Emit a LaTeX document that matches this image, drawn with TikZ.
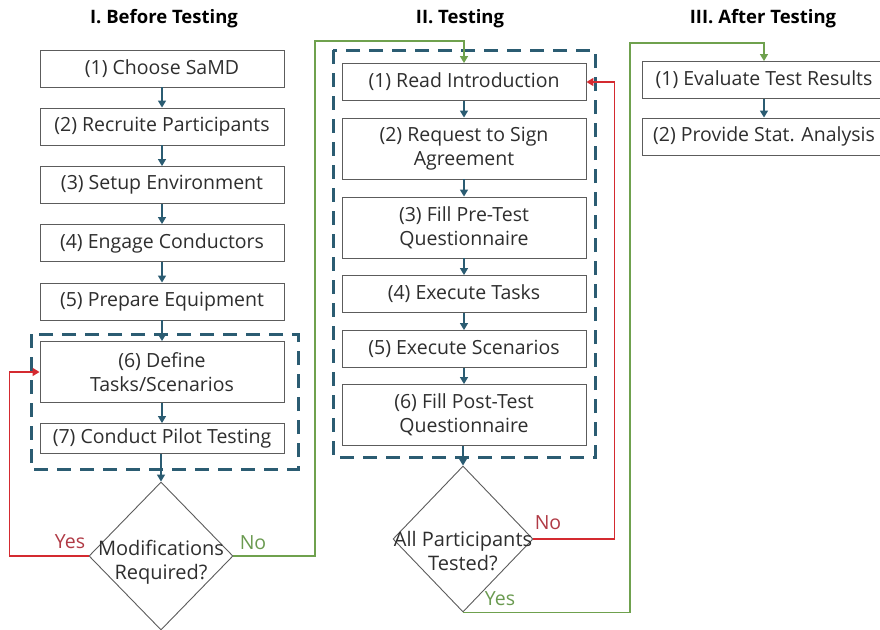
\documentclass[tikz,border=0pt]{standalone}
\usepackage{fontspec}
\setmainfont{Open Sans}
\usetikzlibrary{shapes.geometric,arrows.meta}
\definecolor{boxline}{HTML}{5C5C5C}
\definecolor{txt}{HTML}{2E2E2E}
\definecolor{flow}{HTML}{2B5C72}
\definecolor{loopred}{HTML}{D42A30}
\definecolor{loopgreen}{HTML}{6FA14E}
\definecolor{yestxt}{HTML}{B03A45}
\definecolor{notxt}{HTML}{6A9A50}
\begin{document}
\begin{tikzpicture}[x=1pt,y=-1pt,
  stepbox/.style={draw=boxline, line width=0.9pt, minimum width=244pt,
    align=center, inner sep=0pt, text=txt, fill=white,
    font=\fontsize{19.5}{24}\selectfont},
  onebox/.style={stepbox, minimum height=37pt},
  twobox/.style={stepbox, minimum height=61pt},
  decision/.style={diamond, draw=boxline, line width=0.9pt, inner sep=0pt},
  dectext/.style={align=center, text=txt, font=\fontsize{20}{24.5}\selectfont},
  heading/.style={font=\fontsize{18.5}{22}\selectfont\bfseries, text=black},
  groupbox/.style={draw=flow, line width=3pt, dash pattern=on 14pt off 9pt},
  flowarrow/.style={draw=flow, line width=1.5pt, -{Triangle[width=8pt,length=7pt]}},
  redloop/.style={draw=loopred, line width=1.5pt, -{Triangle[width=8pt,length=7pt]}},
  greenloop/.style={draw=loopgreen, line width=1.5pt, -{Triangle[width=8pt,length=7pt]}},
  yeslabel/.style={text=yestxt, font=\fontsize{19.5}{22}\selectfont},
  nolabel/.style={text=notxt, font=\fontsize{19.5}{22}\selectfont},
  ]
\useasboundingbox (0,0) rectangle (880,629);

% column headings
\node[heading] (h1) at (164,18.5) {I. Before Testing};
\node[heading] (h2) at (460,18.5) {II. Testing};
\node[heading] (h3) at (763,18.5) {III. After Testing};

% group frames
\draw[groupbox] (31,334) rectangle (298,469);
\draw[groupbox] (333,50) rectangle (595,457);

% I. Before Testing
\node[onebox] (b1) at (162,68.5) {(1) Choose SaMD};
\node[onebox] (b2) at (162,126.5) {(2) Recruite Participants};
\node[onebox] (b3) at (162,185) {(3) Setup Environment};
\node[onebox] (b4) at (162,243) {(4) Engage Conductors};
\node[onebox] (b5) at (162,301.5) {(5) Prepare Equipment};
\node[twobox] (b6) at (162,372) {(6) Define\\Tasks/Scenarios};
\node[onebox, minimum height=30pt] (b7) at (162,438.5) {(7) Conduct Pilot Testing};
\node[decision, minimum width=144pt, minimum height=148pt] (d1) at (161,556) {};
\node[dectext] (d1t) at (161,562) {Modifications\\Required?};

% II. Testing
\node[onebox] (t1) at (464,82) {(1) Read Introduction};
\node[twobox] (t2) at (464,148.5) {(2) Request to Sign\\Agreement};
\node[twobox] (t3) at (464,227.5) {(3) Fill Pre-Test\\Questionnaire};
\node[onebox] (t4) at (464,294) {(4) Execute Tasks};
\node[onebox] (t5) at (464,349) {(5) Execute Scenarios};
\node[twobox] (t6) at (464,415) {(6) Fill Post-Test\\Questionnaire};
\node[decision, minimum width=140pt, minimum height=146pt] (d2) at (463,539) {};
\node[dectext] (d2t) at (463,551) {All Participants\\Tested?};

% III. After Testing
\node[onebox] (a1) at (764,80) {(1) Evaluate Test Results};
\node[onebox] (a2) at (764,136.5) {(2) Provide Stat. Analysis};

% sequence arrows
\foreach \u/\v in {b1/b2,b2/b3,b3/b4,b4/b5,b5/b6,b6/b7,
                   t1/t2,t2/t3,t3/t4,t4/t5,t5/t6,a1/a2}
  \draw[flowarrow] (\u.south) -- (\v.north);
\draw[flowarrow] (b7.south -| d1.north) -- (d1.north);
\draw[flowarrow] (t6.south -| d2.north) -- (d2.north);

% decision branches
\coordinate (g1) at (315,41);
\coordinate (g2) at (630,43);
\draw[redloop] (d1.west) -- ++(-79,0) |- (b6.west);
\draw[greenloop] (d1.east) -| (g1) -| (t1.north);
\draw[redloop] (d2.east) -- ++(81,0) |- (t1.east);
\draw[greenloop] (d2.south) -| (g2) -| (a1.north);

% branch labels
\node[yeslabel] (y1) at (70,542) {Yes};
\node[nolabel] (n1) at (253,543) {No};
\node[yeslabel] (n2) at (548,523) {No};
\node[nolabel] (y2) at (500,599) {Yes};
\end{tikzpicture}
\end{document}
